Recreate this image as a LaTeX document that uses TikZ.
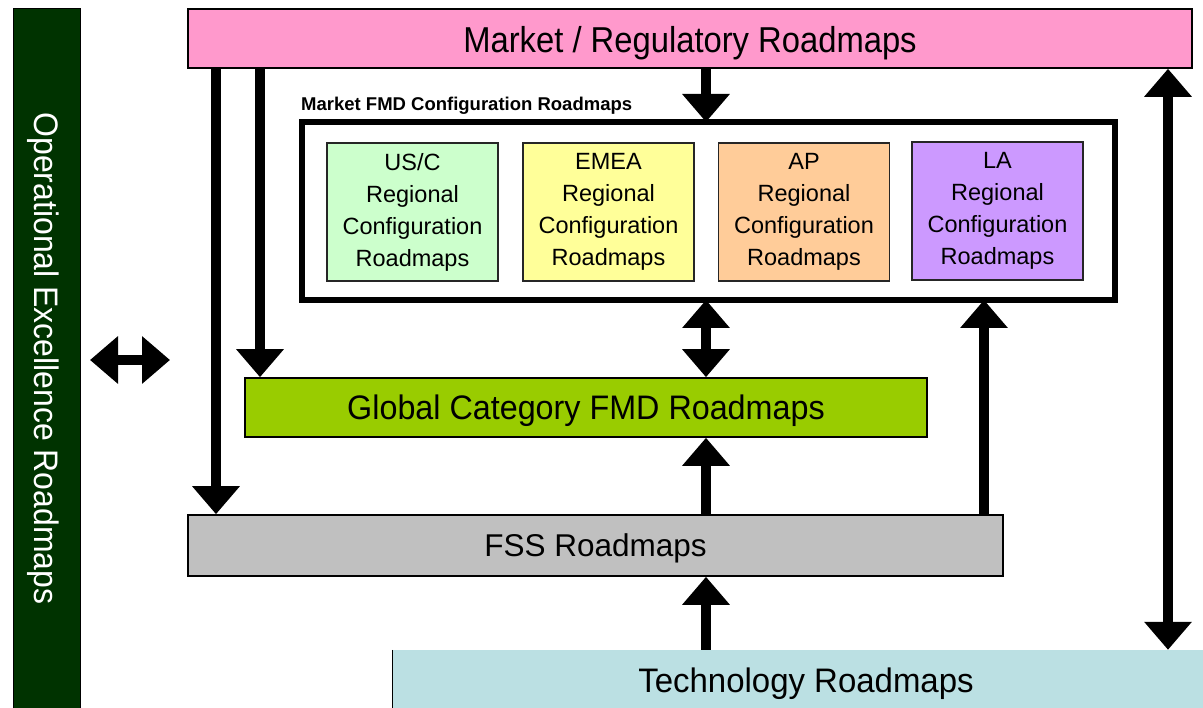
\documentclass[tikz,border=0pt]{standalone}
\usepackage{fontspec}
\setmainfont{Liberation Sans}
\usetikzlibrary{arrows.meta}
\definecolor{oegreen}{HTML}{003300}
\definecolor{mktpink}{HTML}{FF99CC}
\definecolor{globgreen}{HTML}{99CC00}
\definecolor{fssgray}{HTML}{C0C0C0}
\definecolor{techblue}{HTML}{BBE0E3}
\definecolor{uscgreen}{HTML}{CCFFCC}
\definecolor{emeayellow}{HTML}{FFFF99}
\definecolor{aporange}{HTML}{FFCC99}
\definecolor{lapurple}{HTML}{CC99FF}
\newcommand{\squeezed}[2]{\scalebox{#1}[1]{#2}}
\tikzset{
  bar/.style={draw=black, line width=1.6pt, inner sep=0pt, text depth=0pt},
  region/.style={draw=black!85, line width=1.5pt, inner sep=0pt, minimum width=171pt, minimum height=138pt,
    align=center, font=\fontsize{23.5}{32}\selectfont},
  bigarrow/.style={line width=10pt, -{Triangle[width=46pt,length=28pt]}},
  twoarrow/.style={line width=10pt, {Triangle[width=46pt,length=28pt]}-{Triangle[width=46pt,length=28pt]}},
}
\begin{document}
\begin{tikzpicture}[x=1pt,y=-1pt]
\useasboundingbox (0,0) rectangle (1203,708);

% side bar
\node[fill=oegreen, draw=black, line width=1pt, rotate=-90, minimum width=699pt, minimum height=67pt,
  inner sep=0pt, text=white, text height=24pt, text depth=0pt, font=\fontsize{34}{38}\selectfont] (oe) at (46.5,358.5)
  {\squeezed{0.94}{Operational Excellence Roadmaps}};

% main layers
\node[bar, fill=mktpink, minimum width=1004pt, minimum height=59pt, text height=29pt,
  font=\fontsize{36}{40}\selectfont] (mkt) at (690,38.5) {\squeezed{0.91}{Market / Regulatory Roadmaps}};
\node[bar, fill=globgreen, minimum width=682pt, minimum height=59pt, text height=25pt,
  font=\fontsize{34}{40}\selectfont] (glob) at (586,407.5) {\squeezed{0.95}{Global Category FMD Roadmaps}};
\node[bar, fill=fssgray, minimum width=815pt, minimum height=61pt, text height=22.4pt,
  font=\fontsize{31.5}{36}\selectfont] (fss) at (595.5,545.5) {FSS Roadmaps};
\node[fill=techblue, inner sep=0pt, minimum width=826pt, minimum height=58pt, text height=27pt, text depth=0pt,
  font=\fontsize{34}{40}\selectfont] (tech) at (806,679) {\squeezed{0.97}{Technology Roadmaps}};
\draw[line width=1.2pt] (tech.north west) -- (tech.south west);

% regional configuration group
\node[draw=black, line width=5.5pt, minimum width=813pt, minimum height=178pt, inner sep=0pt] (cfg) at (708.5,211) {};
\node[anchor=base west, inner sep=0pt, font=\bfseries\fontsize{18.5}{20}\selectfont] (cfglbl) at (301,111)
  {Market FMD Configuration Roadmaps};
\node[region, fill=uscgreen] (usc) at (412.5,212) {US/C\\Regional\\Configuration\\Roadmaps};
\node[region, fill=emeayellow] (emea) at (608.5,212) {EMEA\\Regional\\Configuration\\Roadmaps};
\node[region, fill=aporange] (ap) at (804,212) {AP\\Regional\\Configuration\\Roadmaps};
\node[region, fill=lapurple] (la) at (997.5,211) {LA\\Regional\\Configuration\\Roadmaps};

% connector columns
\coordinate (xa) at (216,0);
\coordinate (xb) at (260,0);
\coordinate (xc) at (706,0);
\coordinate (xd) at (984,0);
\coordinate (xe) at (1168,0);
\coordinate (hl) at (90,360);
\coordinate (hr) at (170,360);

% connectors
\draw[bigarrow] (mkt.south -| xa) -- (fss.north -| xa);
\draw[bigarrow] (mkt.south -| xb) -- (glob.north -| xb);
\draw[bigarrow] (mkt.south -| xc) -- ([yshift=-2.75pt]cfg.north -| xc);
\draw[twoarrow] ([yshift=2.75pt]cfg.south -| xc) -- (glob.north -| xc);
\draw[bigarrow] (fss.north -| xc) -- (glob.south -| xc);
\draw[bigarrow] (fss.north -| xd) -- ([yshift=2.75pt]cfg.south -| xd);
\draw[bigarrow] (tech.north -| xc) -- (fss.south -| xc);
\draw[twoarrow] (mkt.south -| xe) -- (tech.north -| xe);
\draw[twoarrow] (hl) -- (hr);
\end{tikzpicture}
\end{document}
